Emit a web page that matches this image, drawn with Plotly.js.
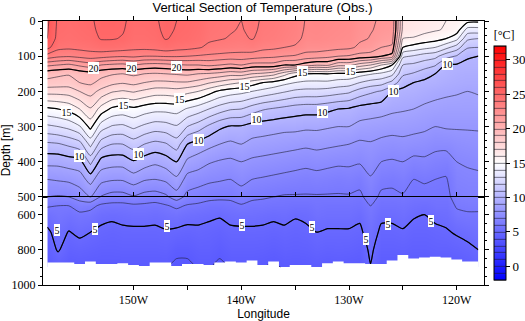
<!DOCTYPE html>
<html>
<head>
<meta charset="utf-8">
<script src="https://cdn.plot.ly/plotly-3.0.1.min.js"></script>
<style>html,body{margin:0;padding:0;background:#fff}#chart{width:525px;height:321px}</style>
</head>
<body>
<div id="chart"></div>
<script>
// Longitudes of the stations (degrees east; negative = W)
const lon = [-158,-157,-156,-155,-154,-153,-152,-151,-150,-149,-148,-147,-146,-145,-144,-143,-142,-141,-140,-139,-138,-137,-136,-135,-134,-133,-132,-131,-130,-129,-128,-127,-126,-125,-124,-123,-122,-121,-120,-119,-118];
// Depth levels [m]
const depth = [0,25,50,75,100,125,150,175,200,250,300,350,400,450,500,550,600,700,800,900];
// Temperature [degC] at each depth level, one value per station
const t0   = [26.2,24.8,24.7,24.8,24.9,25.2,25.2,25.1,24.8,24.8,24.9,25.2,25.0,24.9,24.7,24.3,24.2,24.1,24.0,24.2,23.9,23.8,23.6,23.4,22.95,23.0,22.9,22.8,22.7,22.3,22.1,21.9,21.8,16.8,16.6,16.4,16.2,16.0,15.8,15.3,15.2];
const t25  = [26.1,24.75,24.65,24.75,24.85,25.15,25.15,25.05,24.75,24.75,24.85,25.15,24.95,24.85,24.65,24.25,24.15,24.05,23.95,24.15,23.85,23.75,23.55,23.35,22.9,22.95,22.85,22.75,22.65,22.25,22.05,21.85,21.7,16.7,16.5,16.3,16.1,15.9,15.5,13.6,13.6];
const t50  = [26.0,24.65,24.55,24.65,24.75,25.05,25.05,24.95,24.65,24.65,24.75,25.05,24.85,24.75,24.55,24.15,24.05,23.95,23.85,24.05,23.75,23.65,23.45,23.25,22.8,22.85,22.75,22.65,22.55,22.15,21.95,21.6,21.4,16.0,15.9,15.6,15.4,15.0,14.3,12.2,12.0];
const t75  = [25.3,24.3,24.2,24.3,24.4,24.6,24.6,24.5,24.3,24.3,24.4,24.6,24.4,24.3,24.1,23.8,23.7,23.6,23.5,23.6,23.3,23.2,23.0,22.9,22.5,22.5,22.4,22.3,22.2,21.8,21.6,21.0,20.8,15.0,14.6,14.3,14.0,13.3,12.5,11.1,11.0];
const t100 = [23.6,23.2,23.1,23.3,23.5,23.4,23.2,23.1,23.2,23.0,23.0,23.1,23.1,23.0,22.9,22.8,22.7,22.6,22.6,22.5,22.3,22.2,22.0,21.9,21.6,21.5,21.3,21.0,20.9,20.6,20.5,20.0,19.6,13.2,12.9,12.5,12.3,11.4,10.9,10.1,10.0];
const t125 = [21.2,21.0,20.8,21.2,21.5,21.0,20.8,20.7,21.0,20.7,20.6,20.7,20.9,21.0,21.0,21.2,21.0,20.8,21.0,20.6,20.6,20.6,20.0,20.0,19.5,19.1,19.2,18.3,18.3,17.5,17.0,16.0,15.0,12.0,11.8,11.5,11.1,9.9,9.9,9.8,9.8];
const t150 = [19.4,19.2,19.1,19.4,19.6,19.3,19.1,19.0,19.2,19.0,18.9,19.0,19.1,19.2,19.0,18.9,18.7,18.4,18.5,18.0,17.8,17.4,16.4,15.4,15.0,14.9,15.0,14.8,14.8,14.4,14.1,13.8,13.3,11.2,10.9,10.4,10.0,9.8,9.6,9.5,9.5];
const t175 = [18.7,18.6,18.5,19.0,19.2,18.7,18.3,18.1,18.3,18.0,17.8,17.8,17.9,17.9,17.6,17.1,16.7,16.3,16.0,15.5,15.0,14.7,14.3,14.0,13.8,13.8,13.8,13.6,13.5,13.0,12.6,12.4,11.7,10.3,10.0,9.8,9.7,9.5,9.4,9.3,9.3];
const t200 = [17.4,17.4,17.5,18.0,18.4,17.7,17.1,16.9,17.1,16.8,16.5,16.5,16.6,16.3,16.0,15.4,14.8,14.5,14.3,14.0,13.7,13.4,13.1,12.8,12.7,12.7,12.6,12.4,12.2,11.6,11.2,10.9,10.0,9.8,9.7,9.5,9.3,9.2,9.1,9.0,9.1];
const t250 = [14.8,15.0,15.3,16.0,16.9,15.6,14.8,14.6,14.8,14.5,14.3,14.3,14.4,13.9,13.5,13.0,12.5,12.1,12.0,11.5,11.1,10.9,10.7,10.5,10.4,10.4,10.2,10.0,9.9,9.6,9.5,9.4,9.2,9.1,9.0,8.8,8.7,8.6,8.6,8.6,8.6];
const t300 = [12.8,13.0,13.3,13.9,15.3,13.5,12.9,12.8,13.2,12.8,12.5,12.6,12.9,12.0,11.5,10.8,10.2,9.9,9.9,9.6,9.5,9.4,9.3,9.3,9.2,9.2,9.1,9.0,9.0,8.7,8.6,8.5,8.4,8.4,8.3,8.2,8.0,8.1,8.1,8.1,8.1];
const t350 = [10.8,10.9,11.2,11.6,13.3,11.5,11.0,11.0,11.5,11.0,10.7,10.9,11.5,10.0,9.6,9.3,9.0,8.8,9.0,8.7,8.6,8.5,8.4,8.3,8.2,8.3,8.2,8.1,8.0,7.8,7.9,7.7,7.6,7.7,7.6,7.5,7.3,7.3,7.5,7.6,7.7];
const t400 = [9.3,9.3,9.5,9.6,11.3,9.6,9.4,9.4,9.9,9.5,9.2,9.5,10.0,8.8,8.5,8.1,7.9,7.8,8.0,7.8,7.7,7.6,7.5,7.4,7.3,7.4,7.3,7.2,7.2,7.1,7.4,7.0,6.9,7.0,6.7,6.8,6.6,6.5,7.0,7.1,7.2];
const t450 = [8.0,8.1,8.2,8.5,9.4,8.3,8.1,8.1,8.5,8.1,8.0,8.2,8.8,7.6,7.4,7.2,7.1,7.0,7.3,7.0,6.9,6.8,6.7,6.6,6.5,6.6,6.5,6.4,6.5,6.3,6.9,6.3,6.2,6.4,6.0,6.1,6.0,5.9,6.7,6.8,6.8];
const t500 = [7.0,6.9,7.0,7.4,8.0,6.9,6.6,6.6,6.9,6.6,6.5,6.8,7.5,6.7,6.5,6.3,6.2,6.2,6.5,6.2,6.1,6.0,5.9,5.9,5.9,5.9,5.9,5.9,5.9,5.8,6.4,5.8,5.8,5.9,5.7,5.7,5.7,5.7,6.4,6.5,6.5];
const t550 = [6.1,6.0,6.0,6.5,6.3,5.8,5.7,5.7,5.8,5.8,5.7,5.9,6.2,5.9,5.8,5.6,5.6,5.7,5.9,5.7,5.7,5.6,5.6,5.5,5.5,5.7,5.6,5.6,5.6,5.5,6.0,5.5,5.5,5.6,5.4,5.3,5.5,5.5,6.1,6.2,6.2];
const t600 = [5.5,5.8,5.6,5.8,5.7,5.3,5.2,5.3,5.4,5.4,5.3,5.5,5.6,5.4,5.3,5.2,5.1,5.3,5.4,5.4,5.3,5.2,5.3,5.1,5.2,5.5,5.4,5.4,5.4,5.2,5.8,5.2,5.2,5.4,5.1,5.0,5.2,5.3,5.8,5.9,5.9];
const t700 = [4.8,5.4,4.95,5.2,5.0,4.8,4.7,4.8,4.8,4.8,4.8,4.9,4.8,4.7,4.8,4.7,4.6,4.8,4.8,4.8,4.8,4.7,4.8,4.7,4.8,5.0,4.9,4.9,4.9,4.8,5.5,4.8,4.8,4.9,4.7,4.7,4.8,4.9,5.1,5.3,5.5];
const t800 = [4.45,5.1,4.5,4.6,4.5,4.4,4.4,4.45,4.45,4.45,4.45,4.5,4.2,4.2,4.4,4.4,4.2,4.45,4.45,4.45,4.4,4.3,4.45,4.4,4.45,4.6,4.5,4.55,4.5,4.4,5.2,4.45,4.45,4.5,4.4,4.4,4.5,4.5,4.6,4.75,5.0];
const t900 = [4.05,4.3,4.05,4.1,4.05,4.05,4.05,4.05,4.05,4.05,4.05,4.05,3.8,3.8,4.05,4.05,3.8,4.05,4.05,4.05,4.0,3.9,4.05,4.0,4.05,4.15,4.05,4.1,4.05,4.0,4.95,4.05,4.05,4.05,4.0,4.0,4.05,4.05,4.1,4.25,4.5];
// Deepest observation at each station [m]
const bottom = [872,872,872,881,866,881,881,877,887,892,872,872,892,881,881,887,872,866,872,861,887,866,904,887,887,904,877,866,877,877,881,881,861,830,849,844,840,844,855,866,866];
// Tick labels
const lonTickVals = [-155,-150,-145,-140,-135,-130,-125,-120];
const lonTickText = ['','150W','','140W','','130W','','120W'];

const z = [t0,t25,t50,t75,t100,t125,t150,t175,t200,t250,t300,t350,t400,t450,t500,t550,t600,t700,t800,t900];
const cscale = [[0,'rgb(0,0,255)'],[0.5,'rgb(255,255,255)'],[1,'rgb(255,0,0)']];
const serif = 'Liberation Serif, Times New Roman, serif';
const sans = 'Liberation Sans, Arial, sans-serif';

function fillTrace(ya, show) {
  return {
    type:'contour', x:lon, y:depth, z:z, xaxis:'x', yaxis:ya,
    colorscale:cscale, zauto:false, zmin:-2, zmax:32, autocontour:false,
    contours:{start:-2, end:32, size:1, coloring:'heatmap', showlines:true},
    line:{color:'rgba(25,25,40,0.8)', width:0.7, smoothing:0.6},
    showscale:show, hoverinfo:'skip',
    colorbar:{x:1.0234, xanchor:'left', xpad:0, y:0.498, yanchor:'middle', len:0.958, lenmode:'fraction',
      ypad:0, thickness:12, thicknessmode:'pixels', outlinewidth:1, outlinecolor:'black',
      tick0:0, dtick:5, ticks:'outside', ticklen:4, tickcolor:'black',
      tickfont:{family:serif, size:13, color:'black'},
      title:{text:'[\u00B0C]', side:'top', font:{family:serif, size:12, color:'black'}}}
  };
}
function majorTrace(ya) {
  return {
    type:'contour', x:lon, y:depth, z:z, xaxis:'x', yaxis:ya, autocontour:false,
    contours:{start:5, end:20, size:5, coloring:'none', showlabels:false},
    line:{color:'black', width:1.2, smoothing:0.6}, showscale:false, hoverinfo:'skip'
  };
}
const maskX = lon.concat(lon.slice().reverse());
const maskY = bottom.concat(lon.map(() => 1000));
const mask = {type:'scatter', mode:'lines', x:maskX, y:maskY, xaxis:'x', yaxis:'y2',
  fill:'toself', fillcolor:'white', line:{width:0, shape:'hvh'}, hoverinfo:'skip', showlegend:false};

const data = [fillTrace('y', true), majorTrace('y'), fillTrace('y2', false), majorTrace('y2'), mask];

// In-line contour labels (text, position on the isotherm as in the original figure)
const contourLabels = [
  ['20',-153.7,134,'y'],['20',-150.2,134,'y'],['20',-146.0,131,'y'],
  ['15',-156.2,258,'y'],['15',-150.9,239,'y'],['15',-145.7,222,'y'],['15',-139.7,186,'y'],['15',-134.3,145,'y'],['15',-129.9,142,'y'],
  ['10',-155.0,383,'y'],['10',-149.5,379,'y'],['10',-144.0,337,'y'],['10',-138.6,278,'y'],['10',-132.5,259,'y'],['10',-125.9,199,'y'],['10',-120.9,121,'y'],
  ['5',-157.1,688,'y2'],['5',-153.6,683,'y2'],['5',-146.9,665,'y2'],['5',-139.9,658,'y2'],['5',-133.4,668,'y2'],['5',-128.4,740,'y2'],['5',-126.4,655,'y2'],['5',-122.4,636,'y2']
];
const labelAnns = contourLabels.map(l => ({text:l[0], x:l[1], y:l[2], xref:'x', yref:l[3], showarrow:false,
  xanchor:'center', yanchor:'middle', bgcolor:'white', borderpad:0.5, borderwidth:0,
  font:{family:serif, size:10, color:'black'}}));

const axBase = {showline:true, linecolor:'black', linewidth:1, ticks:'outside', ticklen:4, tickcolor:'black',
  showgrid:false, zeroline:false, tickfont:{family:serif, size:12, color:'black'}};

const layout = {
  width:525, height:321, margin:{l:43, r:41, t:21, b:36, autoexpand:false},
  paper_bgcolor:'white', plot_bgcolor:'white', showlegend:false,
  title:{text:'Vertical Section of Temperature (Obs.)', font:{family:sans, size:13, color:'black'},
    x:0.5, xref:'container', y:0.978, yref:'container', yanchor:'middle'},
  xaxis:Object.assign({}, axBase, {domain:[0,1], anchor:'y2', range:[-158.4,-117.47],
    tickmode:'array', tickvals:lonTickVals, ticktext:lonTickText, mirror:'allticks',
    title:{text:'Longitude', font:{family:sans, size:12, color:'black'}, standoff:4}}),
  yaxis:Object.assign({}, axBase, {domain:[0.3334,1], anchor:'x', range:[500,0], tick0:0, dtick:100,
    mirror:'ticks', minor:{dtick:20, ticklen:2, ticks:'outside', tickcolor:'black'}}),
  yaxis2:Object.assign({}, axBase, {domain:[0,0.3334], anchor:'x', range:[1000,500], tick0:0, dtick:200,
    mirror:'ticks', minor:{dtick:50, ticklen:2, ticks:'outside', tickcolor:'black'}}),
  annotations:[{text:'Depth [m]', textangle:-90, xref:'paper', yref:'paper', x:-0.084, y:0.51,
    xanchor:'center', yanchor:'middle', showarrow:false, font:{family:sans, size:12, color:'black'}}].concat(labelAnns)
};
Plotly.newPlot('chart', data, layout, {staticPlot:true, displayModeBar:false});
</script>
</body>
</html>
